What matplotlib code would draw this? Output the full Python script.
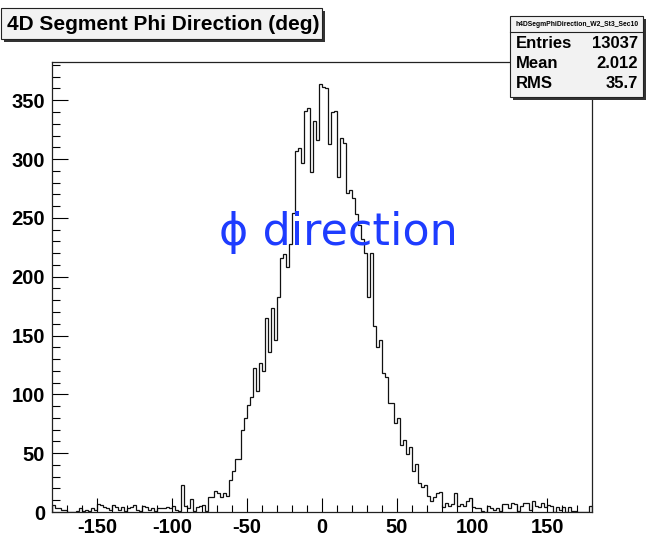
import matplotlib
matplotlib.use("Agg")
import matplotlib.pyplot as plt
from matplotlib.patches import Rectangle
from matplotlib.ticker import MultipleLocator
import numpy as np

W, H = 664, 549

TITLE = "4D Segment Phi Direction (deg)"
HIST_NAME = "h4DSegmPhiDirection_W2_St3_Sec10"
STAT_NAMES = ["Entries", "Mean", "RMS"]
STAT_VALUES = ["13037", "2.012", "35.7"]
LABEL = "\u03d5 direction"

X_MIN, X_MAX, N_BINS = -180.0, 180.0, 180
Y_MAX = 382.5

# counts per 2 degree bin, left to right
COUNTS_TAIL_LEFT = [
    6, 3, 3, 2, 2, 0, 0, 0, 1, 3, 1, 2, 1, 3, 2, 7, 6, 4, 3, 2,
    6, 4, 2, 4, 1, 3, 4, 6, 2, 1, 5, 4, 2, 3, 1, 3, 3, 3, 4, 3,
    5, 2, 1, 23, 5, 3, 11, 1, 4, 5, 6, 1, 13, 13, 18, 16, 13, 16, 14,
]
COUNTS_CORE = [
    27, 35, 45, 45, 70, 80, 91, 98, 122, 103, 127, 120,
    165, 136, 173, 146, 183, 216, 219, 208, 228, 254,
    307, 309, 297, 341, 343, 289, 332, 316, 364, 361,
    360, 313, 340, 341, 285, 318, 314, 271, 274, 267,
    253, 244, 232, 220, 183, 220, 158, 140, 146, 118,
    115, 93, 93, 76, 80, 57, 61, 49, 55, 35, 41, 25, 21, 23,
]
COUNTS_TAIL_RIGHT = [
    14, 9, 13, 16, 17, 4, 8, 5, 7, 16, 5, 7, 5, 9, 12, 4, 3, 3, 1, 0,
    5, 3, 2, 3, 1, 7, 7, 3, 8, 7, 1, 5, 8, 8, 2, 9, 5, 4, 8, 4,
    6, 5, 0, 4, 2, 4, 0, 4, 1, 1, 0, 0, 0, 0, 5,
]
COUNTS = np.array(COUNTS_TAIL_LEFT + COUNTS_CORE + COUNTS_TAIL_RIGHT, dtype=float)


def fx(px):
    return px / W


def fy(py):
    return 1.0 - py / H


def shadow_box(fig, x0, y0, x1, y1, face="#f2f2f2", shadow=3):
    """ROOT style pave: a filled box with a dark drop shadow."""
    fig.add_artist(Rectangle((fx(x0 + shadow), fy(y1 + shadow)), (x1 - x0) / W,
                             (y1 - y0) / H, transform=fig.transFigure,
                             facecolor="#333333", edgecolor="none", zorder=5))
    fig.add_artist(Rectangle((fx(x0), fy(y1)), (x1 - x0) / W, (y1 - y0) / H,
                             transform=fig.transFigure, facecolor=face,
                             edgecolor="#222222", linewidth=0.8, zorder=6))


plt.rcParams["font.family"] = ["Liberation Sans", "DejaVu Sans"]
plt.rcParams["axes.unicode_minus"] = False

fig = plt.figure(figsize=(W / 100, H / 100), dpi=100, facecolor="white")
ax = fig.add_axes([fx(52), fy(512), 540 / W, 450 / H])

edges = np.linspace(X_MIN, X_MAX, N_BINS + 1)
ax.stairs(COUNTS, edges, color="#111111", linewidth=0.9, baseline=0)

ax.set_xlim(X_MIN, X_MAX)
ax.set_ylim(0, Y_MAX)
ax.xaxis.set_major_locator(MultipleLocator(50))
ax.xaxis.set_minor_locator(MultipleLocator(10))
ax.yaxis.set_major_locator(MultipleLocator(50))
ax.yaxis.set_minor_locator(MultipleLocator(10))
ax.tick_params(axis="x", which="major", direction="in", length=10, width=0.8,
               pad=4, labelsize=14.5)
ax.tick_params(axis="x", which="minor", direction="in", length=5, width=0.8)
ax.tick_params(axis="y", which="major", direction="in", length=11.5, width=0.8,
               pad=5, labelsize=14.5)
ax.tick_params(axis="y", which="minor", direction="in", length=5.8, width=0.8)
for lab in ax.get_xticklabels() + ax.get_yticklabels():
    lab.set_fontweight("bold")
for spine in ax.spines.values():
    spine.set_linewidth(0.9)
    spine.set_color("#222222")

ax.text((338 - 52) / 540, (512 - 232) / 450, LABEL, transform=ax.transAxes,
        ha="center", va="center", fontsize=32, color="#1e3cff",
        family="DejaVu Sans")

# title pave
shadow_box(fig, 1, 8, 322, 39)
fig.text(fx(7), fy(24), TITLE, ha="left", va="center", fontsize=15,
         fontweight="bold", zorder=7)

# stats pave
shadow_box(fig, 510, 16, 643, 97)
fig.add_artist(plt.Line2D([fx(510), fx(643)], [fy(32), fy(32)],
                          transform=fig.transFigure, color="#222222",
                          linewidth=0.8, zorder=7))
fig.text(fx(577), fy(24), HIST_NAME, ha="center", va="center", fontsize=4.9,
         fontweight="bold", zorder=7)
for i, (name, value) in enumerate(zip(STAT_NAMES, STAT_VALUES)):
    yy = fy(43 + 20 * i)
    fig.text(fx(516), yy, name, ha="left", va="center", fontsize=12,
             fontweight="bold", zorder=7)
    fig.text(fx(638), yy, value, ha="right", va="center", fontsize=12,
             fontweight="bold", zorder=7)

fig.savefig("out.png", dpi=100, facecolor="white")
